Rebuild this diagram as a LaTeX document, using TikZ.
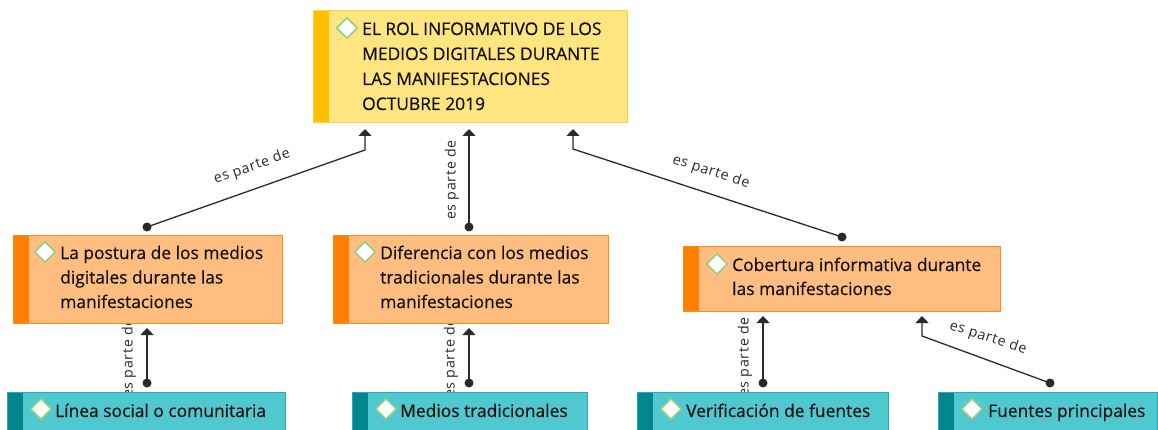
\documentclass[tikz,border=0pt]{standalone}
\usepackage{fontspec}
\setmainfont{Open Sans}[FakeBold=0.35]
\newfontfamily\boxfont[FakeBold=0.45]{Open Sans}
\newfontfamily\lblfont[LetterSpace=5]{Open Sans}
\usetikzlibrary{arrows.meta,shapes.geometric,calc}
\definecolor{yfill}{HTML}{FFE57F}
\definecolor{ydraw}{HTML}{FFD040}
\definecolor{ystripe}{HTML}{FFC000}
\definecolor{ofill}{HTML}{FFBE80}
\definecolor{odraw}{HTML}{FF8A1C}
\definecolor{ostripe}{HTML}{FF7F00}
\definecolor{tfill}{HTML}{50C8D0}
\definecolor{tdraw}{HTML}{2CA8B2}
\definecolor{tstripe}{HTML}{00878D}
\definecolor{dgreen}{HTML}{90D080}
\definecolor{linecol}{HTML}{2A2A2A}
\definecolor{txtcol}{HTML}{111111}
\begin{document}
\begin{tikzpicture}[x=1pt,y=-1pt,
  stripe/.style={path picture={\fill[#1] (path picture bounding box.north west) rectangle ([xshift=16pt]path picture bounding box.south west);}},
  boxbase/.style={rectangle, anchor=north west, inner sep=0pt, outer sep=0pt, line width=1pt},
  topbox/.style={boxbase, fill=yfill, draw=ydraw, stripe=ystripe},
  midbox/.style={boxbase, fill=ofill, draw=odraw, stripe=ostripe},
  botbox/.style={boxbase, fill=tfill, draw=tdraw, stripe=tstripe},
  txt/.style={anchor=base west, align=left, inner sep=0pt, text=txtcol, font={\boxfont\fontsize{17.4}{24.5}\selectfont}},
  dia/.style={diamond, aspect=1, draw=dgreen, fill=white, line width=1.6pt, minimum width=21pt, minimum height=21pt, inner sep=0pt},
  conn/.style={draw=linecol, line width=1.3pt, -{Triangle[width=13pt,length=7pt]}},
  dot/.style={fill=linecol},
  lbl/.style={text=linecol, inner sep=0pt, font={\lblfont\fontsize{14.2}{16}\selectfont}}
]
\useasboundingbox (0,0) rectangle (1158,430);
\clip (0,0) rectangle (1158,430);
\fill[white] (0,0) rectangle (1158,430);

% connector end points
\coordinate (c1s) at (147,227);
\coordinate (c1b) at (365,150);
\coordinate (c1e) at (365,129);
\coordinate (c2s) at (469,227);
\coordinate (c2e) at (469,129);
\coordinate (c3s) at (842,237);
\coordinate (c3b) at (573,149);
\coordinate (c3e) at (573,129);
\coordinate (c4s) at (147,383);
\coordinate (c4e) at (147,328);
\coordinate (c5s) at (469,383);
\coordinate (c5e) at (469,328);
\coordinate (c6s) at (763,383);
\coordinate (c6e) at (763,316);
\coordinate (c7s) at (1050,383);
\coordinate (c7b) at (922,336);
\coordinate (c7e) at (922,316);

% connectors (drawn first, boxes cover label ends)
\draw[conn] (c1s) -- (c1b) -- (c1e);
\fill[dot] (c1s) circle (4.5pt);
\node[lbl, rotate=19.5] (l1) at (252,167) {es parte de};
\draw[conn] (c2s) -- (c2e);
\fill[dot] (c2s) circle (4.5pt);
\node[lbl, rotate=90] (l2) at (452,180) {es parte de};
\draw[conn] (c3s) -- (c3b) -- (c3e);
\fill[dot] (c3s) circle (4.5pt);
\node[lbl, rotate=-18] (l3) at (711,172) {es parte de};
\draw[conn] (c4s) -- (c4e);
\fill[dot] (c4s) circle (4.5pt);
\node[lbl, rotate=90] (l4) at (129,358) {es parte de};
\draw[conn] (c5s) -- (c5e);
\fill[dot] (c5s) circle (4.5pt);
\node[lbl, rotate=90] (l5) at (451,358) {es parte de};
\draw[conn] (c6s) -- (c6e);
\fill[dot] (c6s) circle (4.5pt);
\node[lbl, rotate=90] (l6) at (745,357) {es parte de};
\draw[conn] (c7s) -- (c7b) -- (c7e);
\fill[dot] (c7s) circle (4.5pt);
\node[lbl, rotate=-18] (l7) at (988,338) {es parte de};

% top box (text anchored at its last baseline)
\node[topbox, minimum width=314pt, minimum height=112pt] (T) at (313,11) {};
\node[dia] (Td) at (347,28) {};
\node[txt, font={\boxfont\fontsize{17.4}{25}\selectfont}] (Tt) at (362,110) {EL ROL INFORMATIVO DE LOS\\MEDIOS DIGITALES DURANTE\\LAS MANIFESTACIONES\\OCTUBRE 2019};

% middle boxes
\node[midbox, minimum width=269pt, minimum height=87pt] (A) at (13,236) {};
\node[dia] (Ad) at (45,252) {};
\node[txt] (At) at (60,308) {La postura de los medios\\digitales durante las\\manifestaciones};

\node[midbox, minimum width=275pt, minimum height=87pt] (B) at (333,236) {};
\node[dia] (Bd) at (365,252) {};
\node[txt] (Bt) at (380,308) {Diferencia con los medios\\tradicionales durante las\\manifestaciones};

\node[midbox, minimum width=317pt, minimum height=64pt] (C) at (683,247) {};
\node[dia] (Cd) at (717,264) {};
\node[txt, font={\boxfont\fontsize{17.4}{24}\selectfont}] (Ct) at (732,295) {Cobertura informativa durante\\las manifestaciones};

% bottom boxes
\node[botbox, minimum width=278pt, minimum height=40pt] (D) at (7,392) {};
\node[dia] (Dd) at (41,409) {};
\node[txt] (Dt) at (55,417) {Línea social o comunitaria};

\node[botbox, minimum width=235pt, minimum height=40pt] (E) at (352,392) {};
\node[dia] (Ed) at (386,409) {};
\node[txt] (Et) at (400,417) {Medios tradicionales};

\node[botbox, minimum width=251pt, minimum height=40pt] (F) at (637,392) {};
\node[dia] (Fd) at (671,409) {};
\node[txt] (Ft) at (686,417) {Verificación de fuentes};

\node[botbox, minimum width=219pt, minimum height=40pt] (G) at (938,392) {};
\node[dia] (Gd) at (972,409) {};
\node[txt] (Gt) at (988,417) {Fuentes principales};
\end{tikzpicture}
\end{document}
